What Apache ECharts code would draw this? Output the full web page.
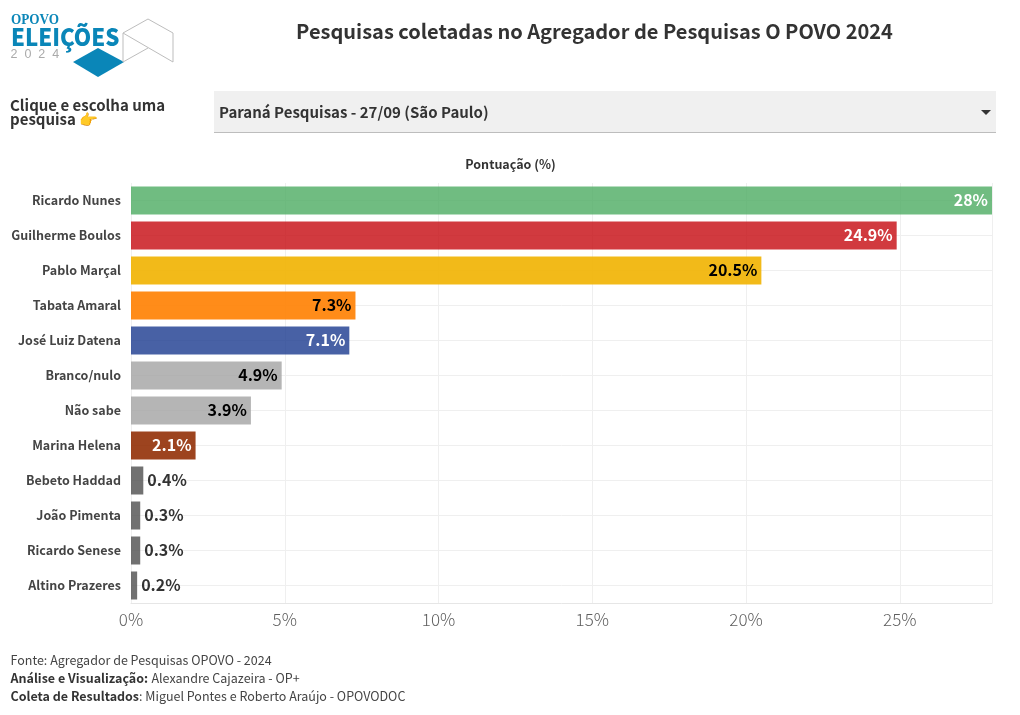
<!DOCTYPE html>
<html><head><meta charset="utf-8">
<style>html,body{margin:0;padding:0;background:#fff}#c{width:1020px;height:715px}</style>
<script src="https://cdn.jsdelivr.net/npm/echarts@6/dist/echarts.min.js"></script></head>
<body><div id="c"></div>
<script>
const categories = ['Ricardo Nunes','Guilherme Boulos','Pablo Marçal','Tabata Amaral','José Luiz Datena','Branco/nulo','Não sabe','Marina Helena','Bebeto Haddad','João Pimenta','Ricardo Senese','Altino Prazeres'];
const values = [28,24.9,20.5,7.3,7.1,4.9,3.9,2.1,0.4,0.3,0.3,0.2];
const barColors = ['rgba(76,171,98,.8)','rgba(197,9,15,.8)','rgba(241,178,0,.9)','rgba(255,127,0,.9)','rgba(26,58,143,.8)','rgba(163,163,163,.8)','rgba(163,163,163,.8)','rgba(143,42,0,.88)','rgba(77,77,77,.8)','rgba(77,77,77,.8)','rgba(77,77,77,.8)','rgba(77,77,77,.8)'];
const labelColors = ['#fff','#fff','#000','#000','#fff','#000','#000','#fff','#333','#333','#333','#333'];
const xTicks = [0,5,10,15,20,25];
const FONT = '"Noto Sans CJK SC","Noto Sans",sans-serif';
const chart = echarts.init(document.getElementById('c'), null, {renderer:'canvas'});
const txt = (x,y,text,size,weight,fill,align,extra) => ({type:'text',x,y,silent:true,style:Object.assign({text,fontFamily:FONT,fontSize:size,fontWeight:weight,fill,align:align||'left',verticalAlign:'middle'},extra||{})});
const wire = pts => ({type:'polyline',silent:true,shape:{points:pts},style:{stroke:'#BDBDBD',lineWidth:1,fill:null}});
const rich = {b:{fontFamily:FONT,fontSize:12.5,fontWeight:700,fill:'#333',color:'#333'},n:{fontFamily:FONT,fontSize:12.5,fontWeight:400,fill:'#444',color:'#444'}};
chart.setOption({
  animation:false,
  backgroundColor:'#fff',
  textStyle:{fontFamily:FONT},
  grid:{left:131,right:28,top:183,bottom:112,containLabel:false},
  xAxis:{type:'value',min:0,max:28,interval:5,position:'bottom',
    axisLine:{show:true,lineStyle:{color:'#E6E6E6',width:1}},axisTick:{show:false},
    splitLine:{show:true,lineStyle:{color:'#EFEFEF',width:1}},
    axisLabel:{show:true,margin:8,color:'#5e5e5e',fontSize:17,fontFamily:FONT,fontWeight:300,showMaxLabel:false,
      formatter:v=>xTicks.includes(v)?v+'%':''}},
  yAxis:{type:'category',inverse:true,data:categories,
    axisLine:{show:false},axisTick:{show:false},
    splitLine:{show:true,alignWithLabel:true,lineStyle:{color:'#EFEFEF',width:1}},
    axisLabel:{margin:10,color:'#444',fontSize:12.5,fontWeight:700,fontFamily:FONT}},
  series:[{type:'bar',barWidth:'80%',
    data:values.map((v,i)=>({value:v,
      itemStyle:{color:barColors[i]},
      label:{show:true,position:v<1?'right':'insideRight',distance:4,offset:[0,-1],color:labelColors[i],fontSize:16,fontWeight:700,fontFamily:FONT,formatter:p=>p.value+'%'}}))
  }],
  graphic:[
    txt(594.5,31,'Pesquisas coletadas no Agregador de Pesquisas O POVO 2024',20,700,'#333','center'),
    txt(10,105,'Clique e escolha uma',15,700,'#333'),
    txt(10,119,'pesquisa 👉',15,700,'#333'),
    {type:'rect',silent:true,shape:{x:214,y:91,width:782,height:41},style:{fill:'#F0F0F0'}},
    {type:'rect',silent:true,shape:{x:214,y:132,width:782,height:1},style:{fill:'#BDBDBD'}},
    txt(219,112,'Paraná Pesquisas - 27/09 (São Paulo)',15,700,'#333'),
    {type:'polygon',silent:true,shape:{points:[[981,110],[991,110],[986,115]]},style:{fill:'#333'}},
    txt(510.5,164,'Pontuação (%)',12.5,700,'#333','center'),
    txt(10.5,660,'Fonte: Agregador de Pesquisas OPOVO - 2024',12.5,400,'#444'),
    {type:'text',x:10.5,y:678,silent:true,style:{rich,text:'{b|Análise e Visualização:} {n|Alexandre Cajazeira - OP+}',verticalAlign:'middle'}},
    {type:'text',x:10.5,y:696,silent:true,style:{rich,text:'{b|Coleta de Resultados}{n|: Miguel Pontes e Roberto Araújo - OPOVODOC}',verticalAlign:'middle'}},
    {type:'text',x:11,y:20,scaleX:0.88,silent:true,style:{text:'OPOVO',fontFamily:'"Liberation Serif",serif',fontSize:15,fontWeight:700,fill:'#0A86B8',verticalAlign:'middle'}},
    {type:'text',x:11,y:37,scaleX:0.925,silent:true,style:{text:'ELEIÇÕES',fontFamily:FONT,fontSize:24,fontWeight:900,fill:'#0A86B8',verticalAlign:'middle'}},
    {type:'text',x:10.5,y:55,silent:true,style:{text:'2  0  2  4',fontFamily:'"Liberation Sans",sans-serif',fontSize:12.5,fill:'#AAAAAA',verticalAlign:'middle'}},
    {type:'polygon',silent:true,shape:{points:[[73,62],[98,48],[124,62],[98,77]]},style:{fill:'#0A86B8'}},
    wire([[123,33],[148,19],[173,33],[173,62],[123,33],[123,62],[148,48]])
  ]
});
</script></body></html>
